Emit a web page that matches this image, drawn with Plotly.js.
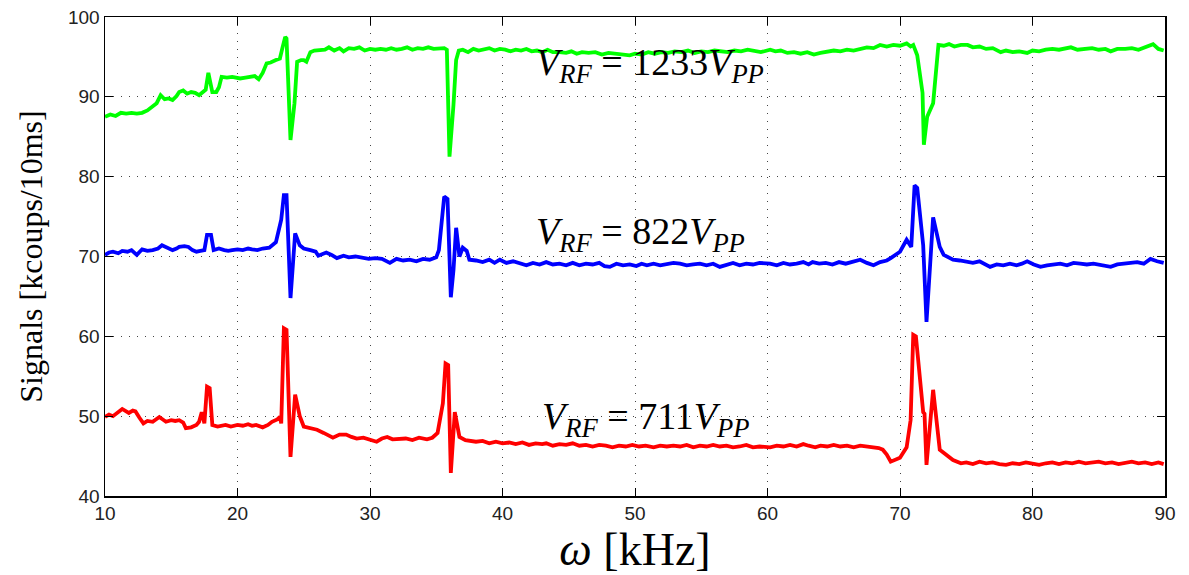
<!DOCTYPE html>
<html>
<head>
<meta charset="utf-8">
<script src="https://cdn.plot.ly/plotly-3.0.1.min.js"></script>
<style>html,body{margin:0;padding:0;background:#fff;}#chart{width:1189px;height:575px;}</style>
</head>
<body>
<div id="chart"></div>
<script>
// Green: V_RF = 1233 V_PP
const greenX = [10.0,10.4,10.8,11.2,11.6,12.0,12.4,12.8,13.2,13.6,13.9,14.2,14.5,14.8,15.1,15.4,15.6,15.9,16.2,16.5,16.8,17.1,17.4,17.6,17.8,17.95,18.1,18.4,18.6,18.8,19.2,19.6,19.9,20.2,20.6,21.0,21.3,21.6,21.9,22.2,22.5,22.9,23.2,23.4,23.6,23.7,23.85,24.0,24.3,24.5,24.8,25.0,25.2,25.5,25.8,26.2,26.6,26.9,27.3,27.7,28.0,28.4,28.8,29.2,29.6,30.0,30.4,30.8,31.2,31.6,32.0,32.4,32.8,33.2,33.6,34.0,34.4,34.8,35.2,35.6,35.8,36.0,36.3,36.5,36.7,37.0,37.4,37.8,38.2,38.6,39.0,39.4,39.8,40.2,40.6,41.0,41.4,41.8,42.2,42.6,43.0,43.4,43.8,44.3,44.8,45.2,45.6,46.0,46.5,47.0,47.5,48.0,48.5,49.0,49.6,50.0,50.5,51.0,51.5,52.0,52.5,53.0,53.5,54.0,54.5,55.0,55.5,56.0,56.5,57.0,57.5,58.0,58.5,59.0,59.5,60.2,60.6,61.0,61.5,62.0,62.5,63.0,63.5,64.0,64.5,65.0,65.5,66.0,66.5,67.0,67.5,68.0,68.5,69.0,69.5,70.0,70.5,70.8,71.0,71.3,71.7,71.8,72.05,72.5,72.9,73.3,73.7,74.1,74.6,75.1,75.5,76.0,76.5,77.0,77.6,78.0,78.5,79.0,79.6,80.0,80.5,81.0,81.5,82.0,82.5,82.9,83.4,84.0,84.5,85.0,85.5,85.9,86.4,87.0,87.5,88.0,88.5,89.1,89.5,89.9];
const greenY = [87.5,87.8,87.6,88.0,87.9,88.0,87.9,88.0,88.3,88.8,89.2,90.2,89.7,89.8,89.6,90.1,90.6,90.8,90.4,90.6,90.5,90.2,90.7,90.9,93.0,92.0,90.6,90.6,91.2,92.5,92.4,92.5,92.4,92.3,92.4,92.5,92.6,92.2,93.0,94.2,94.3,94.6,94.8,96.2,97.5,97.3,91.0,84.6,89.2,94.4,94.6,94.6,94.4,95.6,95.8,95.8,95.9,96.2,95.8,96.1,95.7,96.1,96.0,96.2,95.8,96.0,95.9,96.0,95.9,96.1,95.9,96.0,96.2,95.9,96.1,96.0,96.2,96.0,96.1,96.1,95.9,82.5,89.0,94.6,95.8,95.9,95.6,96.0,95.8,95.9,96.1,95.8,96.0,95.9,95.7,95.9,95.8,96.0,95.7,95.8,95.6,95.9,95.6,95.6,95.5,95.7,95.4,95.6,95.5,95.6,95.3,95.5,95.4,95.3,95.2,95.4,95.3,95.6,95.4,95.6,95.5,95.7,95.6,95.8,95.5,95.7,95.6,95.8,95.7,95.6,95.8,95.7,95.9,95.7,95.6,95.9,95.7,95.8,95.5,95.6,95.4,95.6,95.3,95.5,95.6,95.8,95.7,95.9,95.8,96.0,96.2,96.1,96.5,96.3,96.5,96.4,96.7,96.3,96.5,95.2,90.5,84.0,87.5,89.2,96.5,96.4,96.6,96.3,96.5,96.5,96.2,96.3,96.0,96.1,95.6,95.8,95.6,95.7,95.5,95.8,95.7,95.9,96.0,95.9,96.1,96.2,95.9,96.0,96.1,95.9,96.0,95.7,96.0,96.0,96.1,95.9,96.2,96.6,96.0,95.8];

// Blue: V_RF = 822 V_PP
const blueX = [10.0,10.3,10.6,11.0,11.3,11.7,12.0,12.4,12.8,13.2,13.6,14.0,14.3,14.7,15.1,15.4,15.6,16.0,16.3,16.6,16.9,17.2,17.5,17.7,18.0,18.2,18.6,19.0,19.3,19.6,20.0,20.4,20.8,21.1,21.5,21.9,22.4,22.9,23.3,23.5,23.7,24.0,24.35,24.7,25.0,25.5,25.9,26.1,26.4,26.7,27.1,27.5,28.0,28.4,28.9,29.4,29.9,30.4,30.9,31.5,32.0,32.5,33.0,33.5,34.0,34.5,35.0,35.2,35.6,35.85,36.1,36.3,36.5,36.75,37.0,37.3,37.5,38.0,38.5,39.0,39.4,39.8,40.3,40.8,41.3,41.8,42.3,42.8,43.3,43.8,44.3,44.8,45.3,45.8,46.3,46.8,47.3,47.7,48.1,48.6,49.1,49.6,50.1,50.5,50.9,51.4,51.9,52.4,52.9,53.4,53.9,54.4,54.9,55.4,55.9,56.4,56.9,57.4,57.9,58.4,58.9,59.4,60.2,60.7,61.2,61.7,62.2,62.7,63.1,63.4,63.9,64.4,64.9,65.4,65.9,66.4,67.0,67.5,68.0,68.5,69.0,69.3,70.0,70.5,70.85,71.1,71.3,71.75,72.0,72.5,73.0,73.3,73.6,74.0,74.5,75.0,75.5,76.0,76.4,76.8,77.3,77.8,78.3,78.8,79.2,79.6,80.1,80.6,81.1,81.6,82.1,82.6,83.1,83.6,84.1,84.6,85.1,85.5,85.9,86.4,86.9,87.4,87.9,88.4,88.9,89.4,89.9];
const blueY = [70.2,70.5,70.6,70.4,70.7,70.6,70.8,70.2,70.9,70.7,70.8,71.0,71.4,71.1,70.8,71.0,71.2,71.3,71.2,70.8,70.6,70.7,70.8,72.7,72.7,70.8,71.0,70.8,70.7,70.8,70.9,70.8,71.0,70.9,70.8,71.0,71.1,71.8,74.6,77.7,77.7,64.8,72.9,71.4,71.0,70.8,70.6,70.1,70.3,70.5,70.2,69.8,70.1,69.9,70.0,69.8,69.7,69.8,69.7,69.2,69.7,69.5,69.6,69.4,69.7,69.6,69.9,70.8,77.5,77.2,64.9,68.3,73.6,70.0,71.1,70.7,69.6,69.5,69.3,69.6,69.2,69.6,69.2,69.4,69.1,68.9,69.2,69.0,69.3,69.0,69.1,68.9,69.2,68.9,69.1,69.0,69.2,68.8,68.7,69.1,68.9,69.0,68.8,69.1,68.9,69.1,68.9,69.0,69.2,69.1,68.9,69.0,69.1,68.9,69.1,68.7,69.0,69.2,68.9,69.1,69.0,69.2,69.1,68.9,69.2,69.0,69.1,69.3,69.0,69.3,69.1,69.2,69.0,69.3,69.1,69.3,69.6,69.2,68.9,69.3,69.5,69.8,70.6,72.1,71.2,78.9,78.6,71.4,61.8,74.9,71.2,70.2,69.9,69.6,69.5,69.3,69.2,69.4,69.1,68.7,69.0,68.9,69.1,68.9,69.1,69.4,69.0,68.7,68.9,69.0,69.1,68.9,69.2,69.1,69.0,69.1,68.9,68.8,68.7,69.0,69.1,69.2,69.3,69.1,69.7,69.4,69.2];

// Red: V_RF = 711 V_PP
const redX = [10.0,10.3,10.6,10.9,11.3,11.6,11.8,12.1,12.3,12.6,12.9,13.2,13.6,14.1,14.4,14.6,15.0,15.3,15.6,15.9,16.1,16.5,16.9,17.1,17.3,17.5,17.7,17.9,18.1,18.5,19.1,19.5,20.0,20.4,20.8,21.1,21.4,21.9,22.3,22.6,23.0,23.2,23.3,23.5,23.7,24.0,24.35,24.7,25.0,25.6,26.0,26.5,27.2,27.7,28.2,28.6,29.0,29.5,30.0,30.5,30.9,31.3,31.7,32.2,32.7,33.2,33.7,34.3,34.7,35.1,35.3,35.5,35.7,35.9,36.1,36.4,36.75,37.2,38.0,38.5,39.0,39.5,40.0,40.5,41.0,41.5,42.0,42.5,43.0,43.3,43.8,44.3,44.8,45.3,45.8,46.3,46.8,47.3,47.8,48.3,48.8,49.3,49.8,50.3,50.8,51.4,51.9,52.4,52.9,53.4,53.9,54.4,54.9,55.4,55.9,56.4,56.9,57.4,57.9,58.4,58.9,59.4,60.2,60.7,61.2,61.7,62.2,62.7,63.1,63.6,64.0,64.5,65.0,65.5,66.0,66.5,67.0,67.5,68.0,68.4,68.7,69.0,69.3,69.7,70.0,70.5,70.8,71.0,71.2,71.75,71.85,72.0,72.5,73.0,73.3,73.6,74.0,74.6,75.0,75.5,76.0,76.5,77.0,77.5,78.0,78.5,79.0,79.5,80.0,80.5,81.0,81.5,82.0,82.5,83.0,83.5,84.0,84.5,85.0,85.5,86.0,86.5,87.0,87.5,88.0,88.5,89.0,89.5,89.9];
const redY = [49.9,50.2,50.0,50.4,50.9,50.6,50.4,50.7,50.6,49.8,49.1,49.4,49.3,49.9,49.5,49.3,49.5,49.4,49.5,49.2,48.5,48.6,48.9,49.3,50.5,49.1,53.7,53.5,48.9,48.7,48.9,48.7,48.9,48.8,49.0,48.8,48.9,48.6,48.9,49.3,49.6,49.9,49.1,61.0,60.8,44.9,52.7,50.0,48.7,48.5,48.3,47.9,47.3,47.7,47.7,47.4,47.2,47.3,47.1,46.8,47.2,47.4,47.1,47.1,47.2,47.0,47.3,47.1,47.3,47.9,49.5,51.6,56.6,56.4,42.9,50.5,47.4,47.0,46.8,46.9,46.6,46.8,46.6,46.7,46.5,46.7,46.4,46.6,46.5,46.6,46.3,46.5,46.4,46.6,46.3,46.4,46.2,46.4,46.3,46.1,46.3,46.2,46.4,46.2,46.3,46.1,46.3,46.2,46.3,46.2,46.4,46.1,46.3,46.2,46.4,46.2,46.3,46.1,46.2,46.4,46.1,46.2,46.1,46.3,46.2,46.4,46.2,46.5,46.3,46.1,46.3,46.2,46.4,46.2,46.3,46.1,46.3,46.2,46.1,46.0,45.8,45.2,44.3,44.6,44.8,46.1,49.5,60.2,60.0,50.5,50.3,43.9,53.3,45.8,45.4,44.9,44.5,44.1,44.2,44.0,44.3,44.1,44.2,44.0,43.9,44.1,44.0,44.2,44.1,43.9,44.1,44.2,44.0,44.2,44.1,44.3,44.1,44.2,44.3,44.1,44.2,44.0,44.2,44.3,44.1,44.2,44.0,44.2,44.0];

const xTicks = [10,20,30,40,50,60,70,80,90];
const yTicks = [40,50,60,70,80,90,100];
const labels = [
  {x: 51.1, y: 94.0, v: '1233'},
  {x: 50.4, y: 72.8, v: '822'},
  {x: 50.8, y: 49.7, v: '711'}
];

const traces = [
  {x: greenX, y: greenY, color: '#00ff00'},
  {x: blueX, y: blueY, color: '#0000ff'},
  {x: redX, y: redY, color: '#ff0000'}
].map(s => ({x: s.x, y: s.y, type: 'scatter', mode: 'lines', line: {color: s.color, width: 3.8}, hoverinfo: 'skip'}));

const serif = '"Liberation Serif", "DejaVu Serif", serif';
const tickFont = {family: '"Liberation Sans Narrow", "Liberation Sans", sans-serif', size: 19, color: '#222'};

const axisCommon = {
  showline: true, linecolor: '#000', linewidth: 1.5, mirror: 'ticks',
  ticks: 'inside', ticklen: 8, tickcolor: '#000', tickwidth: 1,
  showgrid: true, gridcolor: '#444', griddash: '1px,7px', gridwidth: 1,
  zeroline: false, tickfont: tickFont, fixedrange: true
};

const layout = {
  width: 1189, height: 575,
  margin: {l: 105, r: 24, t: 17, b: 79},
  paper_bgcolor: '#fff', plot_bgcolor: '#fff',
  showlegend: false,
  xaxis: Object.assign({}, axisCommon, {
    range: [10, 90], tickvals: xTicks, ticktext: xTicks.map(String),
    title: {text: '<i>ω</i> [kHz]', font: {family: serif, size: 46, color: '#000'}, standoff: 2}
  }),
  yaxis: Object.assign({}, axisCommon, {
    range: [40, 100], tickvals: yTicks, ticktext: yTicks.map(String),
    title: {text: 'Signals [kcoups/10ms]', font: {family: serif, size: 32, color: '#000'}, standoff: 16}
  }),
  annotations: labels.map(a => ({
    x: a.x, y: a.y, xref: 'x', yref: 'y', showarrow: false,
    text: '<i>V</i><sub><i>RF</i></sub> = ' + a.v + '<i>V</i><sub><i>PP</i></sub>',
    font: {family: serif, size: 38, color: '#000'}
  }))
};

Plotly.newPlot('chart', traces, layout, {displayModeBar: false, staticPlot: true});
</script>
</body>
</html>
